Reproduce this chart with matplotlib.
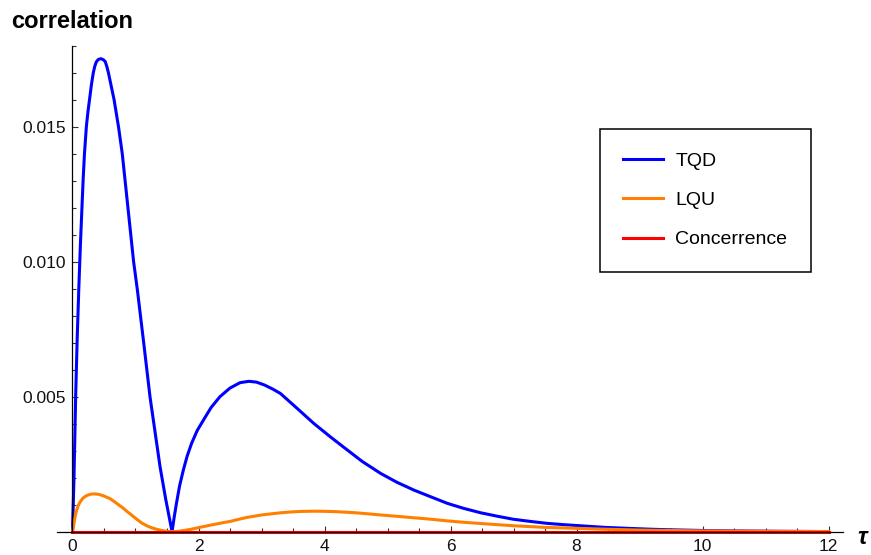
import matplotlib.pyplot as plt
from matplotlib.ticker import FixedLocator, MultipleLocator

plt.rcParams['font.family'] = ['Liberation Sans', 'DejaVu Sans']

# --- Data (correlation values in units of 1e-3) ---

tau_tqd = [0, 0.012, 0.024, 0.037, 0.05, 0.075, 0.1, 0.125, 0.15, 0.17, 0.19, 0.22,
           0.245, 0.27, 0.3, 0.33, 0.355, 0.38, 0.41, 0.45, 0.49, 0.52, 0.545, 0.57,
           0.615, 0.66, 0.695, 0.73, 0.79, 0.835, 0.88, 0.925, 0.97, 1.03, 1.13, 1.23,
           1.31, 1.39, 1.48, 1.58,
           1.615, 1.65, 1.7, 1.76, 1.82, 1.89, 1.98, 2.08, 2.2, 2.34, 2.5, 2.66, 2.8,
           2.92, 3.05, 3.18, 3.3, 3.55, 3.83, 4.1, 4.36, 4.6, 4.89, 5.15, 5.42, 5.7,
           5.95, 6.2, 6.48, 6.75, 7.0, 7.27, 7.53, 7.8, 8.06, 8.45, 8.86, 9.2, 9.5,
           10.0, 10.5, 11.2, 12.0]
tqd = [0, 1.0, 2.04, 3.5, 5.0, 7.2, 9.0, 10.6, 12.0, 13.1, 14.0, 15.0,
       15.55, 16.0, 16.55, 17.0, 17.25, 17.41, 17.49, 17.52, 17.48, 17.41, 17.23, 17.0,
       16.5, 16.0, 15.5, 15.0, 14.0, 13.0, 12.0, 11.0, 10.0, 8.95, 7.0, 5.0,
       3.7, 2.4, 1.2, 0.0,
       0.55, 1.05, 1.7, 2.29, 2.8, 3.27, 3.75, 4.14, 4.6, 5.0, 5.32, 5.52, 5.57,
       5.54, 5.43, 5.28, 5.12, 4.6, 4.01, 3.5, 3.03, 2.6, 2.16, 1.83, 1.54, 1.28,
       1.05, 0.87, 0.70, 0.57, 0.46, 0.38, 0.31, 0.26, 0.22, 0.16, 0.12, 0.09, 0.07,
       0.045, 0.03, 0.015, 0.005]

tau_lqu = [0, 0.015, 0.03, 0.045, 0.067, 0.09, 0.12, 0.17, 0.21, 0.25, 0.29, 0.33,
           0.4, 0.45, 0.5, 0.55, 0.6, 0.66, 0.73, 0.8, 0.86, 0.93, 1.0, 1.05, 1.1,
           1.18, 1.25, 1.32, 1.39, 1.45, 1.5, 1.6, 1.68, 1.75, 1.88, 2.0, 2.12, 2.25,
           2.38, 2.5, 2.64, 2.77, 2.9, 3.0, 3.15, 3.3, 3.46, 3.62, 3.83, 4.0, 4.2,
           4.35, 4.5, 4.7, 4.89, 5.15, 5.4, 5.7, 5.95, 6.2, 6.5, 6.75, 7.0, 7.25, 7.5,
           7.8, 8.06, 8.5, 9.0, 9.5, 10.0, 11.0, 12.0]
lqu = [0, 0.2, 0.4, 0.6, 0.8, 0.96, 1.1, 1.25, 1.32, 1.36, 1.39, 1.40,
       1.39, 1.36, 1.32, 1.27, 1.22, 1.12, 1.0, 0.88, 0.76, 0.63, 0.5, 0.41, 0.32,
       0.22, 0.15, 0.1, 0.06, 0.03, 0.015, 0.0, 0.015, 0.04, 0.09, 0.15, 0.21, 0.27,
       0.33, 0.38, 0.46, 0.53, 0.58, 0.62, 0.66, 0.70, 0.73, 0.75, 0.76, 0.755, 0.74,
       0.72, 0.70, 0.66, 0.62, 0.57, 0.52, 0.46, 0.40, 0.35, 0.30, 0.26, 0.22, 0.19, 0.16,
       0.14, 0.12, 0.09, 0.06, 0.045, 0.03, 0.015, 0.005]

tau_conc = [0, 12.0]
concurrence = [0, 0]

series_names = ["TQD", "LQU", "Concerrence"]
x_ticks = [0, 2, 4, 6, 8, 10, 12]
y_ticks = [0.005, 0.010, 0.015]
y_tick_labels = ["0.005", "0.010", "0.015"]

# --- Plot ---

fig = plt.figure(figsize=(8.71, 5.55), dpi=100)
ax = fig.add_axes([57 / 871, 1 - 531.7 / 555, 786 / 871, 486 / 555])

scale = 1e-3
ax.plot(tau_tqd, [v * scale for v in tqd], color='#0000ff', lw=2.2,
        label=series_names[0], clip_on=False, zorder=3)
ax.plot(tau_lqu, [v * scale for v in lqu], color='#ff8000', lw=2.2,
        label=series_names[1], clip_on=False, zorder=3)
ax.plot(tau_conc, concurrence, color='#ff0000', lw=2.2,
        label=series_names[2], clip_on=False, zorder=3)

ax.set_xlim(-0.246, 12.23)
ax.set_ylim(0, 0.018)

for side in ['top', 'right']:
    ax.spines[side].set_visible(False)
ax.spines['left'].set_position(('data', 0))
ax.spines['bottom'].set_position(('data', 0))
for side in ['left', 'bottom']:
    ax.spines[side].set_linewidth(0.9)
    ax.spines[side].set_zorder(4)

ax.xaxis.set_major_locator(FixedLocator(x_ticks))
ax.xaxis.set_minor_locator(MultipleLocator(0.5))
ax.yaxis.set_major_locator(FixedLocator(y_ticks))
ax.yaxis.set_minor_locator(MultipleLocator(0.001))
ax.set_yticklabels(y_tick_labels)

ax.tick_params(which='both', direction='in', color='#333333', width=0.8,
               labelsize=12.5, labelcolor='#111111')
ax.tick_params(which='major', length=4.5)
ax.tick_params(which='minor', length=3)
ax.tick_params(axis='x', pad=5)
ax.tick_params(axis='y', pad=5)

fig.text(11 / 871, 1 - 28 / 555, "correlation", fontsize=17, fontweight='bold',
         ha='left', va='baseline')
fig.text(862 / 871, 1 - 537 / 555, "τ", fontsize=17, fontweight='bold',
         fontstyle='italic', ha='center', va='center')

leg = ax.legend(loc='upper left', bbox_to_anchor=(600 / 871, 1 - 129 / 555),
                bbox_transform=fig.transFigure, borderaxespad=0,
                fontsize=14, handlelength=2.06, handletextpad=0.62,
                borderpad=1.2, labelspacing=1.11, fancybox=False,
                framealpha=1, edgecolor='black')
leg.get_frame().set_linewidth(1.1)

fig.savefig("out.png", dpi=100)
